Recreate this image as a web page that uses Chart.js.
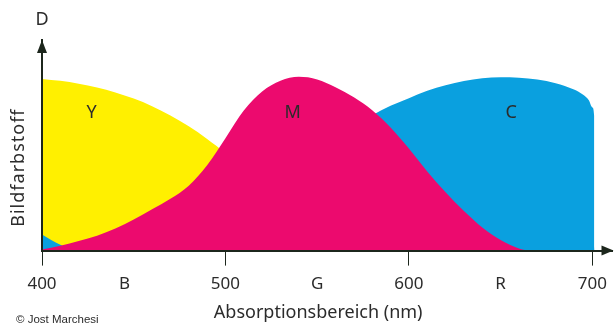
<!DOCTYPE html>
<html lang="de">
<head>
<meta charset="utf-8">
<title>Absorption der Bildfarbstoffe</title>
<script src="https://cdn.jsdelivr.net/npm/chart.js@4.4.1/dist/chart.umd.min.js"></script>
<style>
  html,body{margin:0;padding:0;background:#fff;}
  #wrap{position:relative;width:615px;height:327px;}
</style>
</head>
<body>
<div id="wrap"><canvas id="chart" width="615" height="327"></canvas></div>
<script>
// Data (wavelength in nm, relative dye density 0..100)
const yellowNm  = [400,410,420,430,440,450,460,470,480,490,500,510,520,530,540,550,560];
const yellowVal = [81.5,80.6,79.2,77.4,75.1,72.2,68.6,64.2,59,53,46.2,38,29,20,12,5,0];

const magentaNm  = [400,410,420,430,440,450,460,470,480,490,500,510,520,530,540,550,560,570,580,590,600,610,620,630,640,650,660,665];
const magentaVal = [0.5,2.3,4.6,7.1,10.5,14.8,19.6,24.6,30.8,40.5,53.4,66.5,75.5,80.6,82.5,81.3,77.6,72.8,66.7,58.5,48.5,37.6,27.7,18.8,11,5,1,0];

const cyanNm  = [400,405,410,415,420,500,510,520,530,540,550,560,570,580,590,600,610,620,630,640,650,660,670,680,690,695,698,700,701,701.2];
const cyanVal = [7.6,5,2.8,1,0,0,5,14,25,36,46.5,53.5,59.3,64.3,68.8,72.4,75.9,78.5,80.5,81.8,82.3,82.1,81.3,79.5,76.5,74,71.5,68,64,0];

const tickValues = [400,445,500,550,600,650,700];
const tickLabels = ['400','B','500','G','600','R','700'];

const curveNames   = ['Y','M','C'];
const curveNameNm  = [427,536.6,655.7];
const curveNameVal = [65.4,65.4,65.4];

const axisColor = '#1c261c';
const textColor = '#2b2b2b';
const FONT = '"Noto Sans", "Open Sans", sans-serif';

const pts = (xs, ys)=> xs.map((v,i)=>({x:v, y:ys[i]}));

function series(label, xs, ys, color){
  return {
    label, data: pts(xs, ys),
    backgroundColor: color, borderColor: color, borderWidth: 0,
    pointRadius: 0, fill: 'origin', cubicInterpolationMode: 'monotone'
  };
}

// arrows, axis titles, curve names, credit
const extras = {
  id:'extras',
  afterDraw(chart){
    const {ctx, chartArea:a, scales:{x,y}} = chart;
    ctx.save();
    ctx.fillStyle = axisColor;
    ctx.beginPath();
    ctx.moveTo(a.left, a.top);
    ctx.lineTo(a.left-5, a.top+13);
    ctx.lineTo(a.left+5, a.top+13);
    ctx.closePath(); ctx.fill();
    ctx.beginPath();
    ctx.moveTo(a.right+1, a.bottom);
    ctx.lineTo(a.right-11, a.bottom-5);
    ctx.lineTo(a.right-11, a.bottom+5);
    ctx.closePath(); ctx.fill();

    ctx.fillStyle = textColor;
    ctx.textAlign = 'center'; ctx.textBaseline = 'middle';
    ctx.font = '18px ' + FONT;
    ctx.fillText('D', a.left, 20);
    curveNames.forEach((n,i)=> ctx.fillText(n, x.getPixelForValue(curveNameNm[i]), y.getPixelForValue(curveNameVal[i])));

    // x axis title, centred under G
    ctx.fillText('Absorptionsbereich (nm)', x.getPixelForValue(550) + 1, a.bottom + 62);

    // y axis title
    ctx.save();
    ctx.translate(a.left - 23, a.bottom - 83);
    ctx.rotate(-Math.PI/2);
    ctx.letterSpacing = '1px';
    ctx.fillText('Bildfarbstoff', 0, 0);
    ctx.restore();

    ctx.textAlign = 'left';
    ctx.font = '11.5px "Liberation Sans", Arial, sans-serif';
    ctx.fillText('\u00a9 Jost Marchesi', 16, 320);
    ctx.restore();
  }
};

new Chart(document.getElementById('chart'), {
  type: 'line',
  data: {
    datasets: [
      series('M', magentaNm, magentaVal, '#ec0a6e'),
      series('C', cyanNm, cyanVal, '#0aa0df'),
      series('Y', yellowNm, yellowVal, '#fff000')
    ]
  },
  options: {
    responsive: false,
    animation: false,
    layout: { padding: { left: 42, right: 2, top: 40, bottom: 25 } },
    plugins: { legend: { display: false }, tooltip: { enabled: false } },
    scales: {
      x: {
        type: 'linear', min: 400, max: 711,
        afterBuildTicks: (s)=>{ s.ticks = tickValues.map(v=>({value:v})); },
        ticks: {
          autoSkip: false, maxRotation: 0, padding: 8, color: textColor,
          font: { family: FONT, size: 17 },
          callback: (v)=> tickLabels[tickValues.indexOf(v)]
        },
        grid: {
          drawOnChartArea: false, drawTicks: true, tickLength: 15, lineWidth: 1,
          tickColor: (c)=> (c.tick && c.tick.value % 100 === 0) ? axisColor : 'rgba(0,0,0,0)'
        },
        border: { display: true, color: axisColor, width: 2, z: 1 }
      },
      y: {
        min: 0, max: 100,
        ticks: { display: false },
        grid: { display: false, drawTicks: false },
        border: { display: true, color: axisColor, width: 2, z: 1 }
      }
    }
  },
  plugins: [extras]
});
</script>
</body>
</html>
